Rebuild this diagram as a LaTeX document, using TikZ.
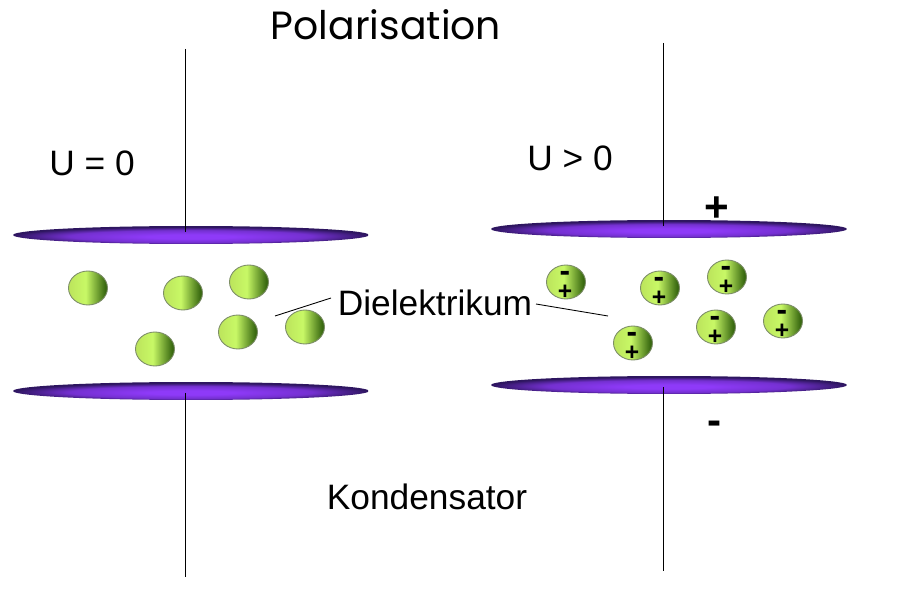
\documentclass[tikz,border=0pt]{standalone}
\usepackage{fontspec}
\setmainfont{Liberation Sans}
\newfontfamily\titlefont{Poppins}
\usepackage{tikz}
\definecolor{platelight}{HTML}{8E3AF8}
\definecolor{platemid}{HTML}{7430D0}
\definecolor{platedark}{HTML}{2E1660}
\definecolor{balllight}{HTML}{C8F866}
\definecolor{ballleft}{HTML}{BCE45C}
\definecolor{balldark}{HTML}{386810}
\definecolor{ballline}{HTML}{7C8C68}
\pgfdeclareradialshading{platefill}{\pgfpoint{0bp}{-5bp}}{color(0bp)=(platelight); color(6bp)=(platelight); color(17bp)=(platemid); color(25bp)=(platedark); color(50bp)=(platedark)}
\pgfdeclarehorizontalshading{ballfill}{100bp}{color(0bp)=(ballleft); color(25bp)=(ballleft); color(47bp)=(balllight); color(72bp)=(balldark); color(100bp)=(balldark)}
\newcommand{\bigminus}{{\fontsize{18}{9.9}\selectfont -}}
\tikzset{
  plate/.style={ellipse,minimum width=7.12cm,minimum height=0.36cm,inner sep=0pt,shading=platefill},
  ball/.style={ellipse,minimum width=0.78cm,minimum height=0.68cm,inner sep=0pt,draw=ballline,line width=0.5pt,shading=ballfill},
  wire/.style={black,line width=0.5pt},
  lbl/.style={anchor=base,font=\fontsize{20.1}{22}\selectfont,inner sep=0pt},
  charge/.style={align=center,font=\bfseries\fontsize{14}{9.9}\selectfont,inner sep=0pt},
}
\usetikzlibrary{shapes.geometric}
\begin{document}
\begin{tikzpicture}[x=0.02cm,y=-0.02cm]
\useasboundingbox (0,0) rectangle (904,608);
% plates
\node [plate] (platelt) at (191,235) {};
\node [plate] (platelb) at (191,391) {};
\node [plate] (platert) at (669,229) {};
\node [plate] (platerb) at (669,385) {};
% wires
\coordinate (wirelta) at (185,49);
\coordinate (wireltb) at (185,232);
\coordinate (wirelba) at (185,393);
\coordinate (wirelbb) at (185,577);
\coordinate (wirerta) at (663,43);
\coordinate (wirertb) at (663,226);
\coordinate (wirerba) at (663,387);
\coordinate (wirerbb) at (663,571);
\draw [wire] (wirelta)--(wireltb);
\draw [wire] (wirelba)--(wirelbb);
\draw [wire] (wirerta)--(wirertb);
\draw [wire] (wirerba)--(wirerbb);
% left balls
\foreach \px/\py/\pn in {88/288/a,183/293/b,249/282/c,238/332/d,305/327/e,155/349/f}
  \node [ball] (bl\pn) at (\px,\py) {};
% right balls
\foreach \px/\py/\pn in {566/282/a,660/288/b,727/277/c,716/327/d,783/321/e,633/343/f}{
  \node [ball] (br\pn) at (\px,\py) {};
  \node [charge] (brc\pn) at (\px-1,\py+3.5) {\bigminus\\+};
}
% texts
\node [anchor=base,inner sep=0pt,font=\titlefont\fontsize{22.4}{24}\selectfont] (title) at (386,40) {Polarisation};
\node [lbl] (ulabel) at (92,176) {U = 0};
\node [lbl] (urlabel) at (570,171) {U > 0};
\node [lbl] (diel) at (435,316) {Dielektrikum};
\node [lbl] (kond) at (427,509) {Kondensator};
\node [font=\bfseries\fontsize{24}{24}\selectfont,inner sep=0pt] (pluspole) at (717,209) {+};
\node [font=\bfseries\fontsize{24}{24}\selectfont,inner sep=0pt] (minuspole) at (715,428) {-};
% leaders
\coordinate (leadla) at (275,316);
\coordinate (leadlb) at (331,298);
\coordinate (leadra) at (536,304);
\coordinate (leadrb) at (608,316);
\draw [wire] (leadla)--(leadlb);
\draw [wire] (leadra)--(leadrb);
\end{tikzpicture}
\end{document}
